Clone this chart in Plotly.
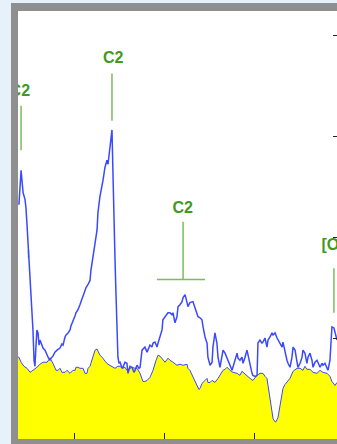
import plotly.graph_objects as go

# Comet spectrum (blue) – wavelength in nm, relative flux
wavelength_comet = [
    419.4, 420.0, 420.6, 421.1, 421.7, 422.8, 423.3, 423.9, 424.4, 425.0,
    425.6, 426.1, 426.7, 427.2, 427.8, 428.3, 428.9, 429.4, 430.0, 430.6,
    431.1, 431.7, 432.8, 433.9, 435.0, 435.6, 436.7, 437.2, 438.3, 439.4,
    440.6, 442.2, 443.3, 443.9, 445.0, 445.6, 446.7, 447.8, 448.3, 449.4,
    450.6, 451.1, 452.2, 453.3, 453.9, 455.0, 456.1, 456.7, 457.8, 458.9,
    459.4, 460.6, 461.1, 461.7, 462.8, 463.3, 464.4, 465.6, 466.1, 467.2,
    467.8, 468.3, 468.9, 469.4, 470.0, 470.6, 471.1, 471.7, 472.2, 472.8,
    473.3, 473.9, 474.4, 475.0, 475.6, 476.7, 477.2, 478.3, 479.4, 480.0,
    481.1, 482.2, 483.3, 483.9, 485.0, 486.1, 486.7, 487.8, 488.9, 489.4,
    490.6, 491.1, 492.2, 493.3, 493.9, 495.0, 496.1, 496.7, 497.8, 498.9,
    499.4, 500.6, 502.2, 503.3, 504.4, 505.0, 506.1, 507.2, 507.8, 508.9,
    510.0, 510.6, 511.7, 512.8, 513.3, 514.4, 516.1, 517.2, 518.9, 520.0,
    521.1, 521.7, 522.8, 523.9, 524.4, 525.6, 526.7, 527.2, 528.3, 529.4,
    530.0, 531.1, 532.2, 532.8, 533.9, 535.6, 536.7, 537.8, 538.3, 539.4,
    540.6, 541.1, 542.2, 543.3, 543.9, 545.0, 546.1, 546.7, 547.8, 548.9,
    549.4, 550.6, 551.7, 552.2, 553.3, 554.4, 555.0, 556.1, 557.2, 557.8,
    558.9, 560.0, 560.6, 561.7, 562.8, 564.4, 565.6, 566.1, 567.2, 568.3,
    568.9, 570.0, 571.1, 571.7, 572.8, 573.9, 574.4, 575.6, 576.7, 577.2,
    578.3, 579.4, 580.0, 581.1, 582.2, 582.8, 583.9, 585.0, 585.6, 586.7,
    587.8, 588.3, 589.4, 590.6, 591.1, 592.2, 592.8, 593.3, 594.4, 595.0,
    596.1,
]
flux_comet = [
    2.32, 2.58, 2.66, 2.56, 2.44, 2.37, 2.29, 2.12, 1.97, 1.82,
    1.67, 1.52, 1.33, 1.08, 0.78, 0.72, 0.93, 1.08, 1.05, 0.93,
    0.98, 0.95, 0.90, 0.88, 0.83, 0.81, 0.78, 0.80, 0.82, 0.86,
    0.88, 0.90, 0.94, 0.93, 1.01, 1.03, 1.05, 1.08, 1.12, 1.16,
    1.22, 1.25, 1.28, 1.33, 1.36, 1.41, 1.46, 1.50, 1.53, 1.57,
    1.67, 1.79, 1.85, 1.94, 2.07, 2.24, 2.40, 2.50, 2.56, 2.69,
    2.73, 2.76, 2.72, 2.79, 2.89, 2.98, 3.06, 2.59, 2.10, 1.77,
    1.45, 1.11, 0.81, 0.75, 0.76, 0.70, 0.71, 0.76, 0.75, 0.65,
    0.72, 0.71, 0.66, 0.68, 0.73, 0.70, 0.71, 0.88, 0.90, 0.91,
    0.86, 0.88, 0.93, 0.91, 0.95, 0.96, 0.91, 0.95, 1.01, 1.08,
    1.18, 1.21, 1.25, 1.25, 1.23, 1.25, 1.15, 1.21, 1.31, 1.33,
    1.36, 1.40, 1.43, 1.35, 1.31, 1.35, 1.36, 1.30, 1.21, 1.20,
    1.18, 1.11, 1.01, 0.95, 0.81, 0.73, 0.76, 0.91, 1.05, 0.95,
    0.81, 0.71, 0.81, 0.88, 0.85, 0.78, 0.72, 0.68, 0.71, 0.78,
    0.85, 0.80, 0.78, 0.81, 0.75, 0.81, 0.88, 0.83, 0.73, 0.65,
    0.63, 0.62, 0.63, 0.95, 0.98, 0.95, 0.96, 1.00, 0.91, 0.98,
    1.01, 1.05, 1.03, 1.05, 1.00, 0.95, 0.91, 0.96, 0.86, 0.78,
    0.75, 0.71, 0.81, 0.91, 0.88, 0.78, 0.71, 0.75, 0.81, 0.88,
    0.85, 0.75, 0.81, 0.85, 0.78, 0.71, 0.76, 0.78, 0.75, 0.71,
    0.75, 0.73, 0.75, 0.71, 0.68, 0.78, 0.98, 1.11, 1.10, 1.06,
    0.98,
]

# Reference (solar) spectrum, drawn as the yellow filled area
wavelength_solar = [
    418.9, 419.4, 420.6, 422.2, 423.9, 425.6, 427.2, 428.3, 429.4, 431.1,
    432.8, 435.0, 436.7, 438.3, 440.0, 441.1, 442.2, 443.3, 445.0, 446.1,
    447.8, 449.4, 450.6, 451.1, 452.2, 453.3, 455.0, 456.1, 457.2, 457.8,
    458.9, 459.4, 460.6, 461.7, 462.8, 464.4, 466.1, 467.2, 468.9, 470.0,
    471.7, 472.8, 474.4, 475.6, 476.7, 478.3, 479.4, 481.1, 482.2, 483.9,
    485.0, 486.7, 487.8, 488.3, 489.4, 490.6, 492.2, 493.9, 495.6, 496.7,
    497.8, 498.9, 500.6, 502.2, 503.3, 505.0, 507.2, 508.9, 510.6, 512.8,
    513.3, 514.4, 516.1, 517.2, 518.3, 519.4, 520.0, 521.1, 522.8, 523.9,
    524.4, 525.6, 526.7, 528.3, 530.0, 531.1, 532.8, 533.9, 535.0, 536.7,
    538.3, 540.6, 542.2, 543.3, 545.0, 546.7, 547.8, 549.4, 550.6, 551.7,
    553.3, 555.0, 556.1, 557.2, 557.8, 558.9, 560.0, 560.6, 561.7, 562.2,
    563.3, 564.4, 565.6, 566.1, 567.2, 568.3, 570.0, 571.7, 572.8, 573.9,
    575.6, 577.2, 578.3, 579.4, 581.1, 582.8, 585.0, 586.7, 588.3, 590.6,
    592.2, 593.3, 595.0, 596.1,
]
flux_solar = [
    0.81, 0.81, 0.76, 0.72, 0.70, 0.66, 0.68, 0.70, 0.71, 0.74,
    0.76, 0.76, 0.80, 0.75, 0.68, 0.68, 0.70, 0.66, 0.66, 0.68,
    0.65, 0.68, 0.68, 0.71, 0.71, 0.70, 0.70, 0.65, 0.65, 0.70,
    0.72, 0.75, 0.82, 0.88, 0.89, 0.83, 0.80, 0.77, 0.74, 0.73,
    0.71, 0.70, 0.72, 0.72, 0.70, 0.71, 0.68, 0.70, 0.71, 0.70,
    0.70, 0.65, 0.60, 0.57, 0.57, 0.58, 0.61, 0.68, 0.78, 0.83,
    0.82, 0.80, 0.76, 0.80, 0.78, 0.76, 0.73, 0.74, 0.73, 0.74,
    0.70, 0.68, 0.61, 0.57, 0.52, 0.49, 0.50, 0.55, 0.58, 0.60,
    0.56, 0.56, 0.58, 0.56, 0.60, 0.63, 0.68, 0.69, 0.71, 0.68,
    0.66, 0.65, 0.63, 0.67, 0.64, 0.61, 0.60, 0.58, 0.61, 0.63,
    0.65, 0.65, 0.62, 0.60, 0.53, 0.41, 0.26, 0.20, 0.17, 0.17,
    0.21, 0.31, 0.43, 0.50, 0.54, 0.56, 0.60, 0.67, 0.69, 0.70,
    0.70, 0.68, 0.72, 0.69, 0.69, 0.66, 0.65, 0.68, 0.66, 0.65,
    0.62, 0.57, 0.53, 0.56,
]

# Emission line identifications
line_labels = ["C2", "C2", "C2", "[OI]"]
line_wavelength = [420.6, 471.1, 510.6, 594.4]
label_wavelength = [419.9, 471.8, 510.4, 595.1]
label_flux = [3.44, 3.76, 2.28, 1.91]
marker_top = [3.30, 3.62, 2.15, 1.69]
marker_bottom = [2.86, 3.15, 1.58, 1.25]
band_start = [None, None, 496.1, None]
band_end = [None, None, 522.8, None]
extra_mark_wavelength = [424.7]
extra_mark_top = [1.87]
extra_mark_bottom = [1.79]

x_range = [418.89, 596.11]
y_range = [0, 4.2376]
x_ticks = [450, 500, 550]
y_ticks = [1, 2, 3, 4]

LABEL_GREEN = "#3f9a1f"
MARK_GREEN = "#7dbb5a"
BLUE = "#3a48ff"

fig = go.Figure()

fig.add_trace(go.Scatter(
    x=wavelength_solar, y=flux_solar, mode="lines",
    fill="tozeroy", fillcolor="#ffff00",
    line=dict(color=BLUE, width=1), hoverinfo="skip",
))

# marker lines: verticals, band bars and the small extra tick
mx, my = [], []
for wl, top, bot, b0, b1 in zip(line_wavelength, marker_top, marker_bottom, band_start, band_end):
    mx += [wl, wl, None]
    my += [top, bot, None]
    if b0 is not None:
        mx += [b0, b1, None]
        my += [bot, bot, None]
for wl, top, bot in zip(extra_mark_wavelength, extra_mark_top, extra_mark_bottom):
    mx += [wl, wl, None]
    my += [top, bot, None]
fig.add_trace(go.Scatter(
    x=mx, y=my, mode="lines", line=dict(color=MARK_GREEN, width=1.5),
    hoverinfo="skip",
))

fig.add_trace(go.Scatter(
    x=wavelength_comet, y=flux_comet, mode="lines",
    line=dict(color=BLUE, width=1.5), hoverinfo="skip",
))

fig.add_trace(go.Scatter(
    x=label_wavelength, y=label_flux, mode="text", text=line_labels,
    textposition="middle center",
    textfont=dict(family="Liberation Sans", size=16, color=LABEL_GREEN, weight="bold"),
    cliponaxis=True, hoverinfo="skip",
))

# grey frame around the plot area (paper coordinates reach into the margins)
FRAME = "#8f8f8f"
fx0 = -7 / 319
fy0 = -5 / 428
fy1 = 1 + 8 / 428
frame_shapes = [
    dict(x0=fx0, x1=0, y0=fy0, y1=fy1),
    dict(x0=fx0, x1=1.01, y0=1, y1=fy1),
    dict(x0=fx0, x1=1.01, y0=fy0, y1=0),
]
for s in frame_shapes:
    fig.add_shape(type="rect", xref="paper", yref="paper", fillcolor=FRAME,
                  line=dict(width=0), layer="above", **s)

fig.update_layout(
    width=337, height=444,
    margin=dict(l=18, r=0, t=11, b=5, pad=0),
    paper_bgcolor="#e6f1fa",
    plot_bgcolor="#ffffff",
    showlegend=False,
    xaxis=dict(range=x_range, tickvals=x_ticks, ticks="inside", ticklen=6,
               tickcolor="#222222", tickwidth=1, showticklabels=False,
               showgrid=False, zeroline=False, showline=False, fixedrange=True),
    yaxis=dict(range=y_range, tickvals=y_ticks, ticks="inside", ticklen=4,
               tickcolor="#222222", tickwidth=1, side="right", showticklabels=False,
               showgrid=False, zeroline=False, showline=False, fixedrange=True),
)

fig.write_html("out.html")
